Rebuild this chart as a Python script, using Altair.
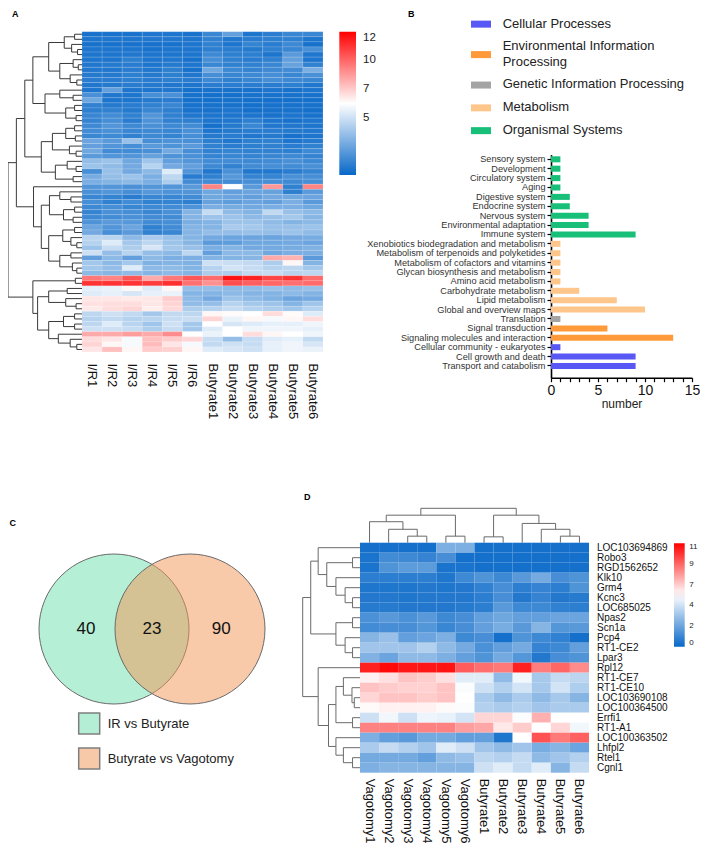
import altair as alt
import pandas as pd

# ------------------------------------------------------------------ data
samples_a = ["I/R1", "I/R2", "I/R3", "I/R4", "I/R5", "I/R6",
             "Butyrate1", "Butyrate2", "Butyrate3", "Butyrate4", "Butyrate5", "Butyrate6"]

expr_a = [
    [0.4, 0.4, 0.4, 0.5, 0.5, 0.4, 1.2, 2.2, 0.5, 0.8, 1.2, 1.2],
    [0.5, 0.5, 0.5, 0.6, 0.6, 0.5, 1.0, 0.6, 0.8, 0.9, 1.0, 0.5],
    [0.4, 0.4, 0.4, 0.4, 0.4, 0.5, 1.0, 0.5, 1.1, 0.8, 1.3, 0.4],
    [0.5, 0.5, 0.5, 0.4, 0.5, 0.5, 0.9, 0.8, 0.7, 1.0, 1.2, 1.6],
    [0.5, 0.5, 0.6, 0.5, 0.5, 0.5, 1.3, 0.9, 0.9, 0.5, 2.0, 0.6],
    [0.5, 0.5, 0.9, 0.5, 0.6, 0.4, 1.5, 1.0, 0.8, 1.0, 2.2, 0.5],
    [0.6, 0.7, 0.8, 0.5, 0.7, 0.5, 1.2, 1.0, 1.0, 1.2, 2.3, 1.0],
    [0.6, 0.6, 0.8, 0.6, 0.9, 0.4, 2.5, 1.3, 1.1, 1.3, 1.4, 2.8],
    [0.7, 0.7, 0.9, 0.7, 0.9, 0.6, 1.5, 1.2, 1.3, 1.5, 1.2, 1.6],
    [0.8, 0.8, 0.9, 0.8, 0.9, 0.8, 1.3, 1.0, 1.2, 1.5, 1.3, 1.2],
    [0.6, 0.7, 0.8, 0.7, 0.6, 0.5, 0.8, 0.8, 0.8, 0.8, 0.9, 0.6],
    [0.5, 2.2, 0.5, 0.5, 0.6, 0.3, 0.4, 0.4, 0.4, 0.5, 0.4, 0.5],
    [1.6, 0.6, 0.5, 1.5, 1.6, 0.4, 0.3, 0.3, 0.4, 0.4, 0.4, 0.4],
    [2.5, 0.5, 0.5, 0.7, 0.8, 0.3, 0.3, 0.4, 0.3, 0.3, 0.3, 0.3],
    [1.0, 0.7, 0.8, 1.0, 1.2, 0.4, 0.4, 0.4, 0.3, 0.4, 0.4, 0.4],
    [0.9, 1.0, 0.7, 1.2, 0.9, 0.4, 0.4, 0.5, 0.3, 0.4, 0.4, 0.3],
    [1.2, 1.4, 1.0, 1.8, 1.0, 0.6, 0.5, 0.5, 0.5, 0.4, 0.5, 0.4],
    [1.1, 1.5, 0.8, 1.7, 1.0, 0.9, 0.5, 0.6, 0.9, 0.5, 0.4, 0.5],
    [1.3, 1.8, 1.3, 1.6, 1.3, 1.4, 0.3, 0.7, 1.2, 0.6, 0.6, 0.5],
    [1.4, 1.6, 1.2, 1.3, 1.2, 1.6, 0.5, 0.7, 0.8, 0.8, 0.7, 0.6],
    [1.2, 1.3, 1.0, 1.3, 1.1, 1.5, 0.7, 0.8, 0.6, 0.7, 0.4, 0.5],
    [2.4, 2.0, 3.5, 1.5, 1.7, 1.6, 0.9, 0.6, 0.9, 1.0, 0.5, 0.7],
    [2.2, 1.8, 1.5, 2.0, 1.7, 2.0, 1.0, 0.8, 0.9, 1.0, 0.8, 1.0],
    [2.5, 1.4, 1.4, 1.6, 2.6, 1.5, 1.0, 1.1, 1.0, 1.0, 0.9, 1.3],
    [2.0, 1.8, 1.8, 2.3, 1.7, 1.6, 1.1, 1.2, 1.1, 1.2, 1.3, 1.1],
    [3.4, 3.6, 2.5, 3.7, 2.2, 1.8, 1.4, 1.4, 1.3, 1.4, 1.6, 1.3],
    [3.6, 3.3, 2.6, 4.2, 2.6, 2.2, 1.3, 1.0, 1.4, 1.5, 1.4, 1.6],
    [1.5, 3.5, 2.6, 3.2, 5.2, 1.8, 0.6, 1.6, 0.6, 0.6, 0.8, 1.1],
    [2.7, 3.4, 3.6, 2.8, 4.4, 0.8, 1.0, 1.9, 1.1, 1.1, 1.6, 1.5],
    [2.8, 3.0, 3.2, 2.8, 4.0, 1.4, 1.4, 1.4, 1.5, 1.5, 1.3, 1.5],
    [1.8, 1.8, 1.6, 1.8, 1.8, 2.0, 8.9, 5.9, 2.0, 8.4, 1.0, 8.9],
    [1.6, 1.8, 1.5, 1.9, 1.7, 1.8, 2.5, 2.2, 2.4, 2.3, 0.9, 2.0],
    [1.2, 1.1, 0.8, 1.2, 1.2, 1.4, 2.5, 2.4, 2.2, 2.6, 2.5, 2.4],
    [1.5, 1.0, 1.4, 1.0, 1.1, 0.9, 2.3, 2.1, 2.4, 2.2, 2.8, 2.0],
    [1.3, 1.5, 1.2, 1.3, 1.4, 1.7, 2.8, 2.7, 2.6, 2.8, 2.8, 2.5],
    [1.1, 1.6, 1.5, 1.2, 1.6, 3.0, 4.6, 3.3, 3.0, 4.5, 3.5, 3.2],
    [1.3, 1.4, 1.6, 1.4, 1.4, 3.0, 3.6, 3.6, 3.2, 3.5, 3.8, 3.1],
    [1.7, 2.0, 1.9, 1.4, 1.5, 2.8, 3.0, 3.6, 3.6, 3.3, 3.0, 3.2],
    [2.4, 1.8, 2.4, 1.0, 1.4, 3.0, 3.0, 3.9, 3.8, 3.5, 3.5, 3.6],
    [2.6, 1.5, 2.0, 1.0, 1.2, 3.0, 3.4, 3.4, 3.5, 3.4, 3.6, 3.3],
    [4.3, 4.3, 3.2, 3.9, 3.5, 3.0, 2.6, 2.4, 2.4, 2.4, 2.6, 2.7],
    [4.2, 5.2, 3.8, 4.4, 3.6, 3.1, 2.0, 2.1, 2.5, 2.5, 2.6, 2.4],
    [3.6, 4.6, 4.0, 5.0, 3.8, 3.5, 2.8, 3.0, 2.6, 2.6, 2.7, 2.9],
    [4.8, 3.4, 4.3, 3.4, 3.2, 4.4, 2.2, 3.2, 3.2, 2.5, 2.8, 2.8],
    [2.2, 3.2, 2.2, 3.2, 2.8, 2.8, 3.0, 3.0, 3.1, 8.0, 7.8, 2.0],
    [3.8, 3.2, 3.8, 2.9, 3.0, 2.9, 4.8, 4.7, 4.5, 4.0, 6.2, 3.0],
    [3.8, 3.4, 5.2, 3.2, 3.3, 3.0, 4.2, 4.9, 4.6, 4.2, 4.4, 3.8],
    [3.2, 3.1, 3.3, 3.0, 3.2, 3.0, 4.0, 4.0, 4.5, 4.6, 4.3, 4.4],
    [9.2, 8.9, 10.0, 8.0, 9.2, 10.0, 9.5, 11.6, 11.2, 10.4, 10.8, 9.5],
    [10.8, 10.8, 10.8, 10.6, 10.9, 9.4, 8.6, 10.2, 9.8, 9.6, 9.4, 9.5],
    [5.4, 5.5, 6.2, 5.2, 6.2, 3.4, 3.4, 3.2, 3.3, 3.5, 3.3, 3.5],
    [5.2, 5.4, 5.0, 5.4, 5.5, 3.0, 3.0, 3.2, 3.0, 3.0, 3.2, 3.0],
    [6.6, 6.6, 6.5, 6.6, 7.2, 3.2, 2.6, 3.6, 3.2, 2.9, 2.4, 2.6],
    [6.7, 6.8, 6.8, 6.6, 7.0, 3.3, 3.4, 4.2, 3.8, 3.6, 3.0, 3.7],
    [6.5, 6.8, 7.0, 6.4, 6.9, 4.0, 4.2, 4.6, 4.2, 4.0, 3.7, 4.2],
    [4.4, 4.8, 4.5, 3.8, 4.5, 4.4, 6.2, 6.1, 6.0, 6.8, 6.1, 5.2],
    [4.2, 4.5, 4.2, 4.3, 4.6, 4.7, 7.0, 5.5, 6.2, 5.8, 6.2, 6.8],
    [4.4, 5.2, 4.3, 3.7, 4.8, 3.8, 6.0, 5.0, 5.2, 5.4, 5.4, 5.6],
    [4.8, 4.8, 4.6, 4.0, 4.6, 3.8, 5.2, 6.0, 5.6, 5.6, 5.6, 5.4],
    [8.0, 8.0, 8.3, 8.0, 8.7, 6.0, 5.5, 6.0, 6.8, 6.2, 6.0, 5.6],
    [6.8, 6.6, 5.8, 7.5, 7.2, 7.0, 4.6, 3.4, 4.6, 5.2, 5.4, 4.5],
    [7.0, 6.2, 5.8, 7.6, 6.6, 5.8, 4.5, 4.8, 4.6, 5.4, 5.6, 5.0],
    [6.6, 7.5, 6.2, 7.2, 7.1, 6.2, 5.2, 5.0, 4.8, 5.4, 5.6, 5.5],
]

# row dendrogram of panel A: [merge height, left, right], leaves are row indices
tree_a = [1.0,
          [0.887,
           [0.773,
            [0.664,
             [0.45, [0.24, [0.1, 0, 1], [0.14, 2, [0.06, 3, 4]]],
                    [0.3, [0.12, 5, [0.05, 6, 7]], [0.16, 8, [0.07, 9, 10]]]],
             [0.5, [0.3, 11, [0.12, 12, 13]], [0.22, [0.1, 14, 15], [0.08, 16, 17]]]],
            [0.55, [0.4, [0.22, [0.1, 18, 19], [0.09, 20, 21]], [0.17, 22, [0.08, 23, 24]]],
                   [0.36, [0.2, 25, [0.08, 26, 27]], [0.12, 28, 29]]]],
           [0.655, 30,
            [0.55, [0.44, [0.3, 31, [0.15, 32, 33]], [0.25, [0.1, 34, 35], [0.12, 36, 37]]],
                   [0.45, [0.26, [0.1, 38, 39], [0.15, 40, [0.07, 41, 42]]],
                          [0.3, [0.15, 43, 44], [0.13, 45, [0.07, 46, 47]]]]]]],
          [0.664, [0.09, 48, 49],
           [0.6, [0.45, [0.2, 50, 51], [0.22, 52, [0.08, 53, 54]]],
                 [0.45, [0.25, [0.1, 55, 56], [0.1, 57, 58]], [0.32, 59, [0.16, 60, [0.07, 61, 62]]]]]]]

samples_d = ["Vagotomy1", "Vagotomy2", "Vagotomy3", "Vagotomy4", "Vagotomy5", "Vagotomy6",
             "Butyrate1", "Butyrate2", "Butyrate3", "Butyrate4", "Butyrate5", "Butyrate6"]
genes_d = ["LOC103694869", "Robo3", "RGD1562652", "Klk10", "Grm4", "Kcnc3", "LOC685025",
           "Npas2", "Scn1a", "Pcp4", "RT1-CE2", "Lpar3", "Rpl12", "RT1-CE7", "RT1-CE10",
           "LOC103690108", "LOC100364500", "Errfi1", "RT1-A1", "LOC100363502", "Lhfpl2",
           "Rtel1", "Cgnl1"]
expr_d = [
    [0.3, 0.3, 0.3, 0.3, 2.6, 2.6, 0.3, 0.3, 0.3, 0.3, 0.3, 0.3],
    [0.4, 1.3, 1.2, 1.0, 1.4, 0.3, 0.3, 0.3, 0.3, 0.3, 0.3, 0.3],
    [0.4, 1.6, 1.9, 1.9, 0.4, 0.4, 0.3, 0.3, 0.3, 0.3, 0.3, 0.3],
    [0.8, 0.8, 0.8, 0.8, 0.5, 1.2, 1.6, 1.2, 1.8, 2.4, 1.4, 1.6],
    [0.5, 0.5, 0.5, 0.6, 0.5, 0.6, 0.9, 1.4, 0.8, 1.0, 0.8, 1.6],
    [0.6, 0.6, 0.5, 0.6, 0.6, 0.6, 0.8, 1.4, 0.6, 1.0, 0.6, 0.7],
    [0.7, 0.7, 0.6, 0.6, 0.6, 0.7, 0.8, 1.8, 1.2, 1.2, 0.9, 0.8],
    [1.5, 1.8, 1.5, 1.8, 1.2, 1.4, 2.0, 2.3, 2.0, 2.0, 2.2, 2.2],
    [1.3, 1.4, 1.4, 1.7, 1.1, 1.4, 2.0, 2.5, 1.8, 2.8, 1.7, 1.8],
    [2.8, 3.2, 2.0, 2.2, 2.6, 1.2, 1.4, 0.3, 1.6, 1.2, 0.9, 0.3],
    [3.4, 3.4, 3.4, 3.8, 3.0, 2.4, 1.5, 2.0, 2.4, 1.0, 1.2, 2.0],
    [2.7, 2.2, 3.0, 3.0, 2.6, 2.0, 1.6, 2.4, 1.7, 0.6, 1.4, 1.6],
    [10.3, 10.8, 10.5, 10.5, 10.6, 9.0, 8.6, 8.4, 10.3, 8.3, 8.8, 8.0],
    [5.8, 6.2, 6.8, 6.6, 6.2, 4.8, 4.8, 3.0, 5.2, 3.5, 4.2, 4.0],
    [6.8, 6.6, 6.5, 6.5, 6.8, 5.4, 4.4, 3.8, 4.5, 3.5, 4.5, 3.7],
    [6.4, 6.8, 6.8, 6.6, 6.8, 5.5, 3.6, 3.0, 3.6, 3.0, 3.5, 2.8],
    [5.6, 5.8, 5.8, 5.8, 5.6, 5.4, 3.8, 3.6, 3.8, 3.4, 3.6, 3.6],
    [4.4, 5.2, 4.4, 5.1, 5.0, 4.5, 6.4, 6.4, 5.4, 7.2, 5.5, 5.5],
    [8.2, 8.2, 8.2, 8.2, 8.2, 7.6, 7.4, 6.0, 6.6, 5.5, 6.4, 5.2],
    [2.6, 2.0, 1.8, 2.4, 2.4, 2.0, 2.0, 0.5, 5.5, 9.2, 8.4, 8.9],
    [3.6, 4.2, 3.8, 3.4, 4.8, 4.4, 3.4, 3.0, 3.4, 2.5, 2.8, 2.2],
    [2.4, 2.4, 2.4, 2.0, 3.0, 3.2, 4.0, 3.8, 4.2, 3.0, 3.4, 3.8],
    [2.6, 2.8, 2.8, 2.8, 2.8, 2.8, 4.4, 4.8, 4.2, 4.8, 2.8, 4.2],
]
tree_d_rows = [1.0,
               [0.86,
                [0.73, 0, [0.58, [0.13, 1, 2], [0.42, 3, [0.26, 4, [0.13, 5, 6]]]]],
                [0.42, [0.13, 7, 8], [0.26, 9, [0.13, 10, 11]]]],
               [0.73, 12,
                [0.55, [0.42, [0.29, 13, [0.14, 14, [0.1, 15, 16]]], [0.13, 17, 18]],
                       [0.42, 19, [0.29, 20, [0.13, 21, 22]]]]]]
tree_d_cols = [1.0,
               [0.8, [0.61, 0, [0.39, 1, [0.19, 2, 3]]], [0.19, 4, 5]],
               [0.8, [0.17, 6, 7], [0.56, 8, [0.39, 9, [0.19, 10, 11]]]]]

kegg_terms = ["Sensory system", "Development", "Circulatory system", "Aging",
              "Digestive system", "Endocrine system", "Nervous system",
              "Environmental adaptation", "Immune system",
              "Xenobiotics biodegradation and metabolism",
              "Metabolism of terpenoids and polyketides",
              "Metabolism of cofactors and vitamins",
              "Glycan biosynthesis and metabolism", "Amino acid metabolism",
              "Carbohydrate metabolism", "Lipid metabolism", "Global and overview maps",
              "Translation", "Signal transduction", "Signaling molecules and interaction",
              "Cellular community - eukaryotes", "Cell growth and death",
              "Transport and catabolism"]
kegg_counts = [1, 1, 1, 1, 2, 2, 4, 4, 9, 1, 1, 1, 1, 1, 3, 7, 10, 1, 6, 13, 1, 9, 9]
kegg_class = (["Organismal Systems"] * 9 + ["Metabolism"] * 8
              + ["Genetic Information Processing"]
              + ["Environmental Information Processing"] * 2
              + ["Cellular Processes"] * 3)
class_names = ["Cellular Processes", "Environmental Information Processing",
               "Genetic Information Processing", "Metabolism", "Organismal Systems"]
class_colors = ["#5858F4", "#FF9A3A", "#A4A4A4", "#FFC68C", "#17BF78"]
class_label_lines = [["Cellular Processes"], ["Environmental Information", "Processing"],
                     ["Genetic Information Processing"], ["Metabolism"], ["Organismal Systems"]]

venn_sets = ["IR vs Butyrate", "Butyrate vs Vagotomy"]
venn_region_counts = [40, 23, 90]   # left only, shared, right only
venn_colors = ["#6BDFAB", "#F39555"]

# ------------------------------------------------------------------ layout
W, H = 692, 839
BLUE, WHITE, RED = "#0868C8", "#FFFFFF", "#FF0000"
FONT = "Liberation Sans"

A_X0, A_X1, A_Y0, A_Y1 = 74, 315, 23.7, 344      # heatmap A
A_ROOT_X = 0
D_X0, D_X1, D_Y0, D_Y1 = 352, 581, 534.7, 764.7  # heatmap D
D_ROOT_X, D_ROOT_Y = 294.7, 500.3
B_X0, B_X1, B_Y0, B_Y1 = 543, 684, 146.6, 369.7
V_CX = (106, 182)
V_CY = 621
# manual legend of panel B
LEG_SW_X, LEG_TXT_X, LEG_TOP, LEG_LH, LEG_GAP = 473, 494.7, 8.5, 15.3, 7.5


def dendro_segments(tree):
    segs = []

    def walk(node):
        if isinstance(node, int):
            return float(node), 0.0
        h, a, b = node
        pa, ha = walk(a)
        pb, hb = walk(b)
        segs.append({"p1": pa, "p2": pb, "h1": h, "h2": h})
        segs.append({"p1": pa, "p2": pa, "h1": ha, "h2": h})
        segs.append({"p1": pb, "p2": pb, "h1": hb, "h2": h})
        return (pa + pb) / 2.0, h

    walk(tree)
    return pd.DataFrame(segs)


dfA = pd.DataFrame([{"row": i, "sample": s, "value": v}
                    for i, r in enumerate(expr_a) for s, v in zip(samples_a, r)])
dfD = pd.DataFrame([{"gene": g, "sample": s, "value": v}
                    for g, r in zip(genes_d, expr_d) for s, v in zip(samples_d, r)])
segA = dendro_segments(tree_a)
segDr = dendro_segments(tree_d_rows)
segDc = dendro_segments(tree_d_cols)
dfB = pd.DataFrame({"term": kegg_terms, "count": kegg_counts, "cls": kegg_class})
dfV = pd.DataFrame({"set": venn_sets, "cx": [0.0, 1.0], "cy": [0.0, 0.0]})
dfVt = pd.DataFrame({"label": [str(c) for c in venn_region_counts],
                     "pos": [-0.37, 0.5, 1.41], "cy": [0.0, 0.0, 0.0]})

# stacked legend rows (heights follow the number of label lines)
leg_rows = []
y = LEG_TOP
for name, lines in zip(class_names, class_label_lines):
    n = len(lines)
    leg_rows.append({"cls": name, "label": "\n".join(lines),
                     "yc": y + n * LEG_LH / 2.0, "yt": y})
    y += n * LEG_LH + LEG_GAP
dfLeg = pd.DataFrame(leg_rows)


def lin(domain, rng):
    return alt.Scale(domain=domain, range=rng, nice=False, zero=False)


def letter(t, x, y):
    return alt.Chart(pd.DataFrame({"t": [t]})).mark_text(
        align="left", baseline="top", fontSize=9, fontWeight="bold",
        font=FONT, color="#000").encode(text="t:N", x=alt.value(x), y=alt.value(y))


# ---------------- panel A
heatA = alt.Chart(dfA).mark_rect(stroke="#FFFFFF", strokeWidth=0.5, strokeOpacity=0.25).encode(
    x=alt.X("sample:N", sort=samples_a,
            scale=alt.Scale(domain=samples_a, range=[A_X0, A_X1], paddingInner=0, paddingOuter=0),
            axis=alt.Axis(orient="bottom", offset=-(H - A_Y1), labelAngle=90, labelFontSize=13,
                          labelPadding=11, ticks=False, domain=False, title=None,
                          labelColor="#111", labelOverlap=False)),
    y=alt.Y("row:O", scale=alt.Scale(domain=list(range(len(expr_a))), range=[A_Y0, A_Y1],
                                     paddingInner=0, paddingOuter=0), axis=None),
    color=alt.Color("value:Q",
                    scale=alt.Scale(domain=[0, 6, 12], range=[BLUE, WHITE, RED], interpolate="rgb"),
                    legend=alt.Legend(orient="none", legendX=331.3, legendY=23.7, direction="vertical",
                                      gradientLength=143.3, gradientThickness=16.7,
                                      values=[12, 9.6, 7.2, 4.8],
                                      labelExpr="format(datum.value, '.0f')",
                                      labelFontSize=11.5, labelOffset=7, labelColor="#222",
                                      title=None, gradientStrokeWidth=0)),
)

dendA = alt.Chart(segA).mark_rule(color="#3a3a3a", strokeWidth=1).encode(
    x=alt.X("h1:Q", scale=lin([0, 1], [A_X0, A_ROOT_X]), axis=None),
    x2=alt.X2("h2"),
    y=alt.Y("p1:Q", scale=lin([-0.5, len(expr_a) - 0.5], [A_Y0, A_Y1]), axis=None),
    y2=alt.Y2("p2"),
)

# ---------------- panel B
class_scale = alt.Scale(domain=class_names, range=class_colors)
bars = alt.Chart(dfB).mark_bar().encode(
    x=alt.X("count:Q", scale=alt.Scale(domain=[0, 15], range=[B_X0, B_X1], nice=False, zero=True),
            axis=alt.Axis(orient="bottom", offset=-(H - B_Y1), values=list(range(16)),
                          labelExpr="datum.value % 5 === 0 ? datum.label : ''",
                          labelFlush=False, labelOverlap=False, tickSize=4, tickColor="#000",
                          tickWidth=1.2, domainColor="#000", domainWidth=1.6, labelFontSize=14,
                          labelColor="#111", labelPadding=2, title="number", titleFontSize=12,
                          titleFontWeight="normal", titleColor="#222", titlePadding=1, grid=False)),
    y=alt.Y("term:N", sort=kegg_terms,
            scale=alt.Scale(domain=kegg_terms, range=[B_Y0, B_Y1], paddingInner=0.36,
                            paddingOuter=0.555, align=0.163),
            axis=alt.Axis(orient="left", offset=-B_X0, labelFontSize=9.2, labelColor="#333",
                          labelLimit=400, tickSize=4, tickColor="#000", tickWidth=1.2,
                          domainColor="#000", domainWidth=1.6, labelPadding=2, title=None,
                          grid=False)),
    color=alt.Color("cls:N", scale=class_scale, legend=None),
)
leg_y = lin([0, H], [0, H])
leg_sw = alt.Chart(dfLeg).mark_point(shape="M-1,-0.35H1V0.35H-1Z", size=400, filled=True,
                                     opacity=1, strokeWidth=0).encode(
    x=alt.value(LEG_SW_X),
    y=alt.Y("yc:Q", scale=leg_y, axis=None),
    color=alt.Color("cls:N", scale=class_scale, legend=None),
)
leg_txt = alt.Chart(dfLeg).mark_text(align="left", baseline="line-top", lineBreak="\n",
                                     lineHeight=LEG_LH, fontSize=13, font=FONT,
                                     color="#222").encode(
    x=alt.value(LEG_TXT_X),
    y=alt.Y("yt:Q", scale=leg_y, axis=None),
    text="label:N",
)

# ---------------- panel C
vx = lin([0, 1], list(V_CX))
vy = lin([0, 1], [V_CY, V_CY - 100])
venn = alt.Chart(dfV).mark_point(shape="circle", filled=True, size=22500, opacity=1,
                                 fillOpacity=0.5, stroke="#6a6a6a", strokeWidth=1,
                                 strokeOpacity=1).encode(
    x=alt.X("cx:Q", scale=vx, axis=None),
    y=alt.Y("cy:Q", scale=vy, axis=None),
    color=alt.Color("set:N", scale=alt.Scale(domain=venn_sets, range=venn_colors),
                    legend=alt.Legend(orient="none", legendX=69.7, legendY=704, title=None,
                                      symbolType="square", symbolSize=441, symbolOpacity=0.5,
                                      symbolStrokeColor="#000", symbolStrokeWidth=1.5,
                                      labelFontSize=13, labelColor="#222", labelOffset=7,
                                      rowPadding=8)),
)
venn_txt = alt.Chart(dfVt).mark_text(fontSize=17, font=FONT, color="#111", baseline="middle").encode(
    x=alt.X("pos:Q", scale=vx, axis=None),
    y=alt.Y("cy:Q", scale=vy, axis=None),
    text="label:N",
)

# ---------------- panel D
heatD = alt.Chart(dfD).mark_rect().encode(
    x=alt.X("sample:N", sort=samples_d,
            scale=alt.Scale(domain=samples_d, range=[D_X0, D_X1], paddingInner=0, paddingOuter=0),
            axis=alt.Axis(orient="bottom", offset=-(H - D_Y1), labelAngle=90, labelFontSize=13,
                          labelPadding=5.5, ticks=False, domain=False, title=None,
                          labelColor="#111", labelOverlap=False)),
    y=alt.Y("gene:N", sort=genes_d,
            scale=alt.Scale(domain=genes_d, range=[D_Y0, D_Y1], paddingInner=0, paddingOuter=0),
            axis=alt.Axis(orient="right", offset=-(W - D_X1), labelFontSize=10, labelPadding=7.5,
                          ticks=False, domain=False, title=None, labelColor="#111",
                          labelOverlap=False)),
    color=alt.Color("value:Q",
                    scale=alt.Scale(domain=[0, 5.5, 11], range=[BLUE, WHITE, RED], interpolate="rgb"),
                    legend=alt.Legend(orient="none", legendX=666, legendY=535.3, direction="vertical",
                                      gradientLength=103.4, gradientThickness=10.7,
                                      values=[11, 8.8, 6.6, 4.4, 2.2, 0],
                                      labelExpr="format(datum.value, '.0f')",
                                      labelFontSize=8, labelOffset=4.5, labelColor="#222",
                                      title=None, gradientStrokeWidth=0)),
)
dendDr = alt.Chart(segDr).mark_rule(color="#6a6a6a", strokeWidth=1).encode(
    x=alt.X("h1:Q", scale=lin([0, 1], [D_X0, D_ROOT_X]), axis=None),
    x2=alt.X2("h2"),
    y=alt.Y("p1:Q", scale=lin([-0.5, len(genes_d) - 0.5], [D_Y0, D_Y1]), axis=None),
    y2=alt.Y2("p2"),
)
dendDc = alt.Chart(segDc).mark_rule(color="#6a6a6a", strokeWidth=1).encode(
    x=alt.X("p1:Q", scale=lin([-0.5, len(samples_d) - 0.5], [D_X0, D_X1]), axis=None),
    x2=alt.X2("p2"),
    y=alt.Y("h1:Q", scale=lin([0, 1], [D_Y0, D_ROOT_Y]), axis=None),
    y2=alt.Y2("h2"),
)

chart = alt.layer(
    heatA, dendA, bars, leg_sw, leg_txt, venn, venn_txt, heatD, dendDr, dendDc,
    letter("A", 4, 1.5), letter("B", 400, 1.5), letter("C", 1.5, 511), letter("D", 296, 485),
).resolve_scale(
    x="independent", y="independent", color="independent"
).resolve_legend(color="independent").properties(
    width=W, height=H, autosize=alt.AutoSizeParams(type="none"), padding=0
).configure(font=FONT).configure_view(strokeWidth=0)

chart.save("out.html", embed_options={"renderer": "svg", "actions": False})
